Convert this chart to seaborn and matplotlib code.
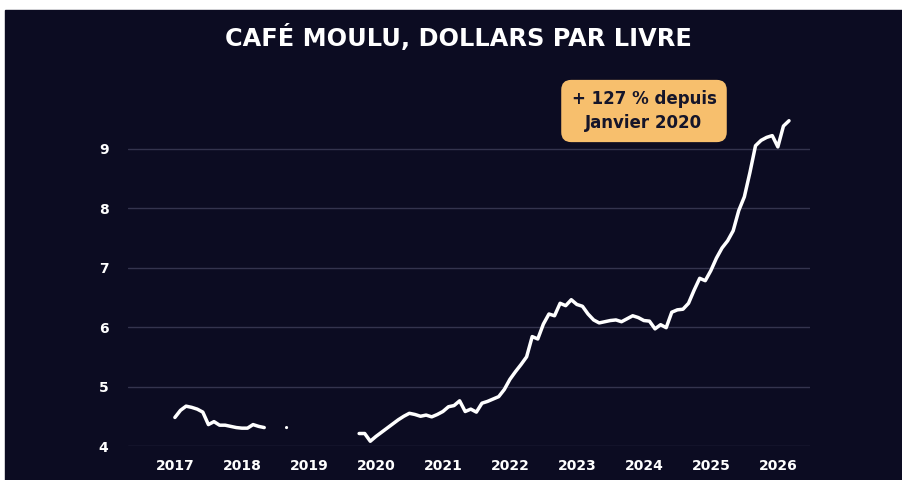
import numpy as np
import pandas as pd
import seaborn as sns
from matplotlib import pyplot as plt
from matplotlib.patches import Rectangle

nan = np.nan

# monthly values, Jan 2017 - Mar 2026 (USD per pound, ground coffee)
years = [2017, 2018, 2019, 2020, 2021, 2022, 2023, 2024, 2025, 2026]
prix_2017 = [4.48, 4.60, 4.67, 4.65, 4.62, 4.57, 4.36, 4.41, 4.35, 4.35, 4.33, 4.31]
prix_2018 = [4.30, 4.30, 4.36, 4.33, 4.31, nan, nan, nan, 4.31, nan, nan, nan]
prix_2019 = [nan, nan, nan, nan, nan, nan, nan, nan, nan, 4.21, 4.21, 4.08]
prix_2020 = [4.16, 4.23, 4.30, 4.37, 4.44, 4.50, 4.55, 4.53, 4.50, 4.52, 4.49, 4.53]
prix_2021 = [4.58, 4.66, 4.68, 4.76, 4.58, 4.62, 4.57, 4.72, 4.75, 4.79, 4.83, 4.95]
prix_2022 = [5.12, 5.25, 5.37, 5.50, 5.84, 5.80, 6.05, 6.22, 6.19, 6.40, 6.36, 6.46]
prix_2023 = [6.38, 6.35, 6.22, 6.12, 6.07, 6.09, 6.11, 6.12, 6.09, 6.14, 6.19, 6.16]
prix_2024 = [6.11, 6.10, 5.97, 6.04, 5.99, 6.25, 6.29, 6.30, 6.40, 6.62, 6.82, 6.78]
prix_2025 = [6.95, 7.16, 7.33, 7.45, 7.62, 7.96, 8.19, 8.60, 9.05, 9.14, 9.19, 9.22]
prix_2026 = [9.03, 9.38, 9.47]

title = "CAFÉ MOULU, DOLLARS PAR LIVRE"
note = "+ 127 % depuis\nJanvier 2020"

BG = "#0c0c22"
GRID = "#34344e"
BOX = "#f7bf6d"

prix = (prix_2017 + prix_2018 + prix_2019 + prix_2020 + prix_2021
        + prix_2022 + prix_2023 + prix_2024 + prix_2025 + prix_2026)
mois = pd.date_range("2017-01-01", periods=len(prix), freq="MS")
df = pd.DataFrame({"t": mois.year + (mois.month - 1) / 12, "prix": prix})
# break the line where months are missing
df["segment"] = df["prix"].isna().cumsum()
df = df.dropna()
taille = df.groupby("segment")["prix"].transform("size")

sns.set_theme(style="dark")
plt.rcParams["font.family"] = ["DejaVu Sans"]

fig = plt.figure(figsize=(9.03, 4.8), dpi=100, facecolor="white")
fig.patches.append(Rectangle((5 / 903, 0), 1, 1 - 10 / 480,
                             transform=fig.transFigure, color=BG, zorder=-1))

ax = fig.add_axes([128 / 903, 34 / 480, 682 / 903, 333 / 480])
ax.set_facecolor(BG)

sns.lineplot(data=df[taille > 1], x="t", y="prix", units="segment",
             estimator=None, color="white", lw=2.5, ax=ax)
sns.scatterplot(data=df[taille == 1], x="t", y="prix", color="white",
                s=5, edgecolor="none", ax=ax)

ax.set_xlim(2016.30, 2026.48)
ax.set_ylim(4, 9.6)
ax.set_xticks(years)
ax.set_xticklabels([str(y) for y in years])
ax.set_yticks([4, 5, 6, 7, 8, 9])
ax.grid(axis="y", color=GRID, lw=1)
ax.grid(axis="x", visible=False)
for s in ax.spines.values():
    s.set_visible(False)
ax.tick_params(axis="x", colors="white", labelsize=10, pad=9, length=0)
ax.tick_params(axis="y", colors="white", labelsize=10, pad=14, length=0)
for lab in ax.get_xticklabels() + ax.get_yticklabels():
    lab.set_fontweight("bold")
ax.set_xlabel("")
ax.set_ylabel("")

fig.text(458 / 903, 1 - 38 / 480, title, color="white", fontsize=17.3,
         fontweight="bold", ha="center", va="center")
fig.text(644 / 903, 1 - 111 / 480, note, color="#15152a", fontsize=12,
         fontweight="bold", ha="center", va="center", linespacing=1.4,
         bbox=dict(boxstyle="round,pad=0.62,rounding_size=0.6", fc=BOX, ec="none"))

fig.savefig("out.png", dpi=100, facecolor=fig.get_facecolor())
